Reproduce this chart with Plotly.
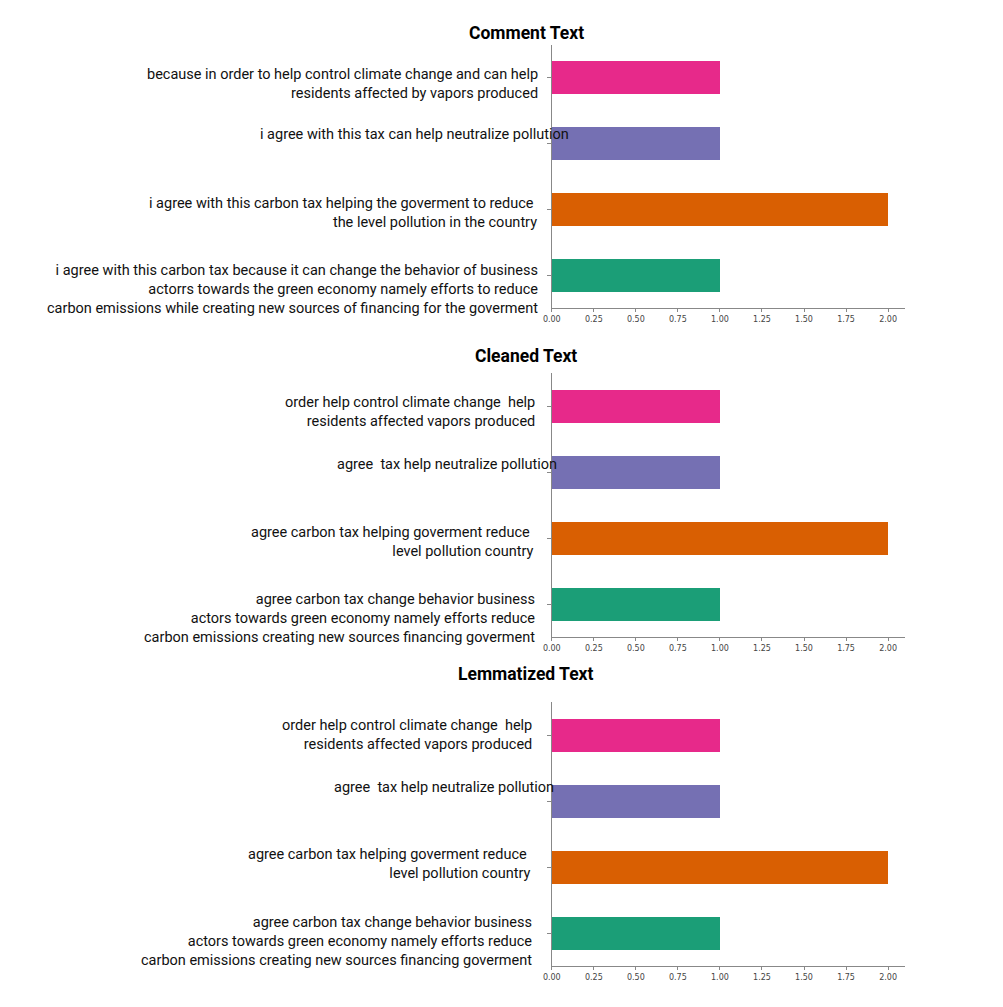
import plotly.graph_objects as go

# ---------------- data ----------------
positions = [0, 1, 2, 3]                      # bottom -> top
counts_comment = [1, 2, 1, 1]
counts_cleaned = [1, 2, 1, 1]
counts_lemmatized = [1, 2, 1, 1]
bar_colors = ["#1b9e77", "#d95f02", "#7570b3", "#e7298a"]

panel_titles = ["Comment Text", "Cleaned Text", "Lemmatized Text"]

comment_labels = [
    "i agree with this carbon tax because it can change the behavior of business<br>"
    "actorrs towards the green economy namely efforts to reduce<br>"
    "carbon emissions while creating new sources of financing for the goverment",
    "i agree with this carbon tax helping the goverment to reduce\u00a0<br>"
    "the level pollution in the country",
    "i agree with this tax can help neutralize pollution",
    "because in order to help control climate change and can help<br>"
    "residents affected by vapors produced",
]
cleaned_labels = [
    "agree carbon tax change behavior business<br>"
    "actors towards green economy namely efforts reduce<br>"
    "carbon emissions creating new sources financing goverment",
    "agree carbon tax helping goverment reduce\u00a0<br>"
    "level pollution country",
    "agree \u00a0tax help neutralize pollution",
    "order help control climate change \u00a0help<br>"
    "residents affected vapors produced",
]
lemmatized_labels = [
    "agree carbon tax change behavior business<br>"
    "actors towards green economy namely efforts reduce<br>"
    "carbon emissions creating new sources financing goverment",
    "agree carbon tax helping goverment reduce\u00a0<br>"
    "level pollution country",
    "agree \u00a0tax help neutralize pollution",
    "order help control climate change \u00a0help<br>"
    "residents affected vapors produced",
]

x_tickvals = [0, 0.25, 0.5, 0.75, 1.0, 1.25, 1.5, 1.75, 2.0]
x_ticktext = ["0.00", "0.25", "0.50", "0.75", "1.00", "1.25", "1.50", "1.75", "2.00"]

# ---------------- layout geometry ----------------
W, H = 1003, 1007
DX = -3
x_dom = [(550.7 + DX) / W, (907 + DX) / W]
y_px = [(45, 308), (373, 637), (702, 966)]
title_y_px = [33, 356, 674]
label_right_px = [
    [539, 538, 570, 539],
    [536, 534, 558, 536],
    [533, 531, 555, 533],
]
label_yshift = [
    [-14, -3.5, 9, -6],
    [-14, -4, 8, -6],
    [-8, 3.5, 14, 0],
]

panels = [
    (counts_comment, comment_labels),
    (counts_cleaned, cleaned_labels),
    (counts_lemmatized, lemmatized_labels),
]

fig = go.Figure()
annotations = []
layout_axes = {}
label_font = dict(family="Roboto", size=14.5, color="#111111")

for i, (counts, labels) in enumerate(panels):
    sfx = "" if i == 0 else str(i + 1)
    fig.add_trace(go.Bar(
        x=counts, y=positions, orientation="h", width=0.5,
        marker=dict(color=bar_colors, line=dict(width=0)),
        xaxis="x" + sfx, yaxis="y" + sfx, showlegend=False,
        hoverinfo="skip",
    ))
    top, bot = y_px[i]
    layout_axes["xaxis" + sfx] = dict(
        domain=x_dom, anchor="y" + sfx, range=[0, 2.1],
        tickvals=x_tickvals, ticktext=x_ticktext,
        showline=True, linecolor="#888888", linewidth=1,
        ticks="outside", ticklen=3, tickcolor="#888888",
        tickfont=dict(family="DejaVu Sans", size=8, color="#444444"),
        showgrid=False, zeroline=False, fixedrange=True,
    )
    layout_axes["yaxis" + sfx] = dict(
        domain=[1 - bot / H, 1 - top / H], anchor="x" + sfx,
        range=[-0.5, 3.5], tickvals=positions, showticklabels=False,
        showline=True, linecolor="#888888", linewidth=1,
        ticks="outside", ticklen=4, tickcolor="#888888",
        showgrid=False, zeroline=False, fixedrange=True,
    )
    annotations.append(dict(
        text="<b>" + panel_titles[i] + "</b>", xref="paper", yref="paper",
        x=(525 + DX) / W, y=1 - title_y_px[i] / H, xanchor="center", yanchor="middle",
        showarrow=False, font=dict(family="Roboto", size=17.5, color="#000000"),
    ))
    for j, lab in enumerate(labels):
        annotations.append(dict(
            text=lab, xref="paper", yref="y" + sfx,
            x=(label_right_px[i][j] + DX) / W, y=positions[j],
            xanchor="right", yanchor="middle", align="right",
            yshift=label_yshift[i][j], showarrow=False, font=label_font,
        ))

fig.update_layout(
    width=W, height=H, margin=dict(l=0, r=0, t=0, b=0),
    paper_bgcolor="white", plot_bgcolor="white",
    annotations=annotations, bargap=0, **layout_axes,
)

fig.write_html("out.html", config={"displayModeBar": False})
